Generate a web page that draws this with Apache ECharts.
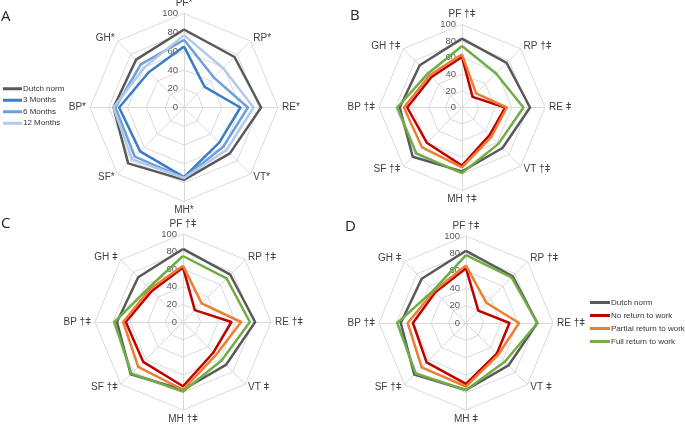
<!DOCTYPE html>
<html>
<head>
<meta charset="utf-8">
<style>
  html, body { margin: 0; padding: 0; background: #fff; }
  #main { width: 685px; height: 428px; }
</style>
<script src="https://cdn.jsdelivr.net/npm/echarts@6/dist/echarts.min.js"></script>
</head>
<body>
<div id="main"></div>
<script>
// domains in clockwise order, starting at the top
var domains = ['PF', 'RP', 'RE', 'VT', 'MH', 'SF', 'BP', 'GH'];
var marksA = ['*', '*', '*', '*', '*', '*', '*', '*'];
var marksB = [' †ǂ', ' †ǂ', ' ǂ', ' †ǂ', ' †ǂ', ' †ǂ', ' †ǂ', ' †ǂ'];
var marksC = [' †ǂ', ' †ǂ', ' †ǂ', ' ǂ', ' †ǂ', ' †ǂ', ' †ǂ', ' ǂ'];
var marksD = [' †ǂ', ' †ǂ', ' †ǂ', ' ǂ', ' ǂ', ' †ǂ', ' †ǂ', ' ǂ'];
var ticks = [0, 20, 40, 60, 80, 100];

var dutchNorm = [83, 76, 82, 69, 77, 84, 75, 72];

// panel A
var months3 = [65, 31, 60, 53, 74, 66, 69, 53];
var months6 = [72, 45, 68, 59, 75, 74, 73, 65];
var months12 = [77, 59, 74, 64, 75, 78, 75, 60];

// panel B
var noReturnB = [61, 18, 52, 47, 70, 60, 66, 52];
var partialB = [64, 24, 54, 50, 72, 68, 70, 55];
var fullB = [74, 58, 74, 62, 79, 78, 78, 58];

// panel C
var noReturnC = [62, 19, 55, 49, 73, 64, 65, 50];
var partialC = [64, 30, 66, 53, 77, 72, 68, 53];
var fullC = [75, 70, 76, 62, 79, 83, 78, 55];

// panel D
var noReturnD = [63, 20, 50, 50, 70, 64, 61, 50];
var partialD = [66, 33, 61, 52, 73, 72, 67, 52];
var fullD = [78, 74, 82, 63, 77, 82, 79, 53];

var legendA = ['Dutch norm', '3 Months', '6 Months', '12 Months'];
var legendD = ['Dutch norm', 'No return to work', 'Partial return to work', 'Full return to work'];

var colors = {
    'Dutch norm': '#595959',
    '3 Months': '#3b7cc5',
    '6 Months': '#6d9fdc',
    '12 Months': '#b4c8e8',
    'No return to work': '#c00000',
    'Partial return to work': '#ed7d31',
    'Full return to work': '#70ad47'
};

// echarts places indicators counter-clockwise, so walk the list backwards
var order = [0, 7, 6, 5, 4, 3, 2, 1];
function reorder(arr) {
    return order.map(function (i) { return arr[i]; });
}

var font = 'Liberation Sans';

function makeRadar(center, radius, marks) {
    var ind = reorder(domains.map(function (d, i) {
        return { name: d + marks[i], min: ticks[0], max: ticks[ticks.length - 1] };
    }));
    // only the top (PF) spoke carries the value labels
    ind[0].axisLabel = {
        show: true,
        color: '#595959',
        fontSize: 9.5,
        fontFamily: font,
        margin: 6
    };
    return {
        center: center,
        radius: radius,
        startAngle: 90,
        shape: 'polygon',
        splitNumber: ticks.length - 1,
        indicator: ind,
        axisName: { color: '#404040', fontSize: 10, fontFamily: font },
        nameGap: 4,
        axisLabel: { show: false },
        axisLine: { lineStyle: { color: '#d9d9d9', width: 1 } },
        axisTick: { show: false },
        splitLine: { lineStyle: { color: '#d9d9d9', width: 1 } },
        splitArea: { show: false }
    };
}

function line(radarIndex, name, values) {
    return {
        type: 'radar',
        radarIndex: radarIndex,
        name: name,
        symbol: 'none',
        silent: true,
        lineStyle: { color: colors[name], width: 2.5 },
        itemStyle: { color: colors[name] },
        data: [{ name: name, value: reorder(values) }]
    };
}

var myChart = echarts.init(document.getElementById('main'));

var option = {
    animation: false,
    textStyle: { fontFamily: font },
    title: [
        { text: 'A', left: 1, top: 9 },
        { text: 'B', left: 350, top: 8 },
        { text: 'C', left: 1, top: 216 },
        { text: 'D', left: 345, top: 219 }
    ].map(function (t) {
        t.padding = 0;
        t.textStyle = { fontSize: 15, fontWeight: 'normal', color: '#222', fontFamily: 'Open Sans' };
        return t;
    }),
    legend: [{
        data: legendA,
        orient: 'vertical',
        left: 3,
        top: 83,
        itemWidth: 19,
        itemHeight: 3,
        itemGap: 0,
        padding: 0,
        icon: 'rect',
        textStyle: { fontSize: 8, color: '#333', lineHeight: 11.5, padding: [0, 0, 0, -4] }
    }, {
        data: legendD,
        orient: 'vertical',
        left: 590,
        top: 296,
        itemWidth: 20,
        itemHeight: 3,
        itemGap: 0,
        padding: 0,
        icon: 'rect',
        textStyle: { fontSize: 8, color: '#333', lineHeight: 13, padding: [0, 0, 0, -4] }
    }],
    radar: [
        makeRadar([184, 107.5], 94, marksA),
        makeRadar([462, 107.5], 83, marksB),
        makeRadar([183, 322], 88, marksC),
        makeRadar([466, 323], 87, marksD)
    ],
    series: [
        line(0, 'Dutch norm', dutchNorm),
        line(0, '3 Months', months3),
        line(0, '6 Months', months6),
        line(0, '12 Months', months12),

        line(1, 'Dutch norm', dutchNorm),
        line(1, 'No return to work', noReturnB),
        line(1, 'Partial return to work', partialB),
        line(1, 'Full return to work', fullB),

        line(2, 'Dutch norm', dutchNorm),
        line(2, 'No return to work', noReturnC),
        line(2, 'Partial return to work', partialC),
        line(2, 'Full return to work', fullC),

        line(3, 'Dutch norm', dutchNorm),
        line(3, 'No return to work', noReturnD),
        line(3, 'Partial return to work', partialD),
        line(3, 'Full return to work', fullD)
    ]
};

myChart.setOption(option);
</script>
</body>
</html>
